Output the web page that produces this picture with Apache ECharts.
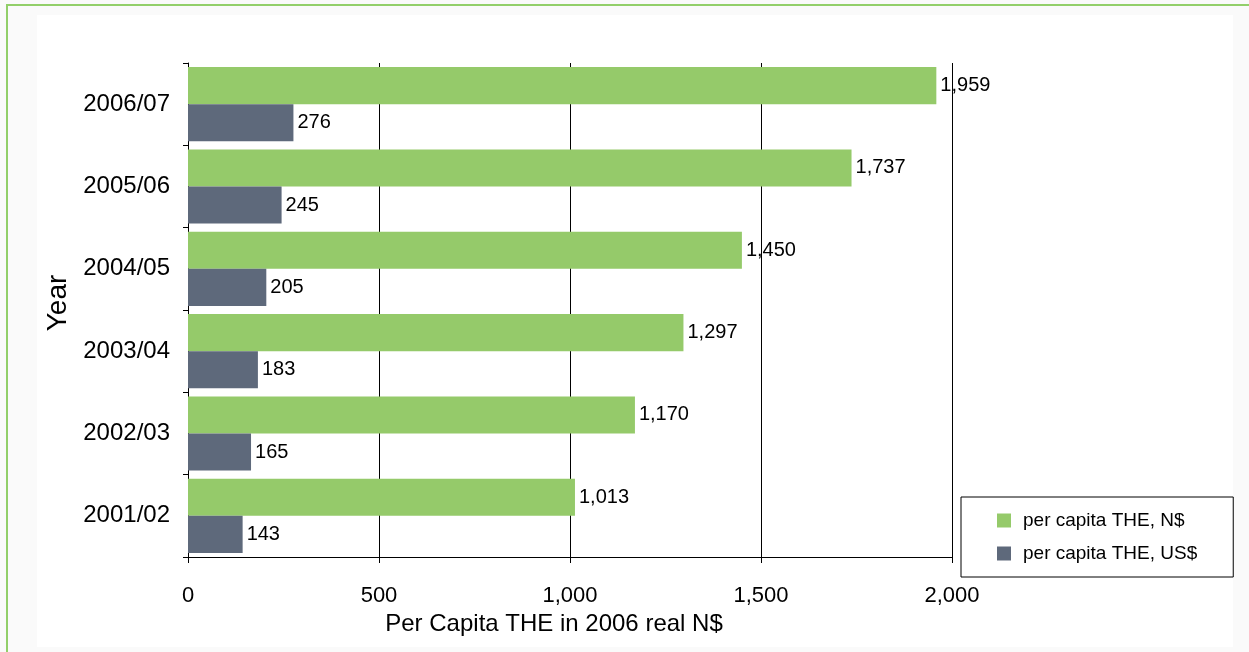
<!DOCTYPE html>
<html>
<head>
<meta charset="utf-8">
<script src="https://cdn.jsdelivr.net/npm/echarts@6/dist/echarts.min.js"></script>
<style>
  html, body { margin: 0; padding: 0; background: #fafafa; }
  #frameTop { position: absolute; left: 6px; top: 4px; width: 1243px; height: 2px; background: #92cf6a; }
  #frameLeft { position: absolute; left: 6px; top: 4px; width: 2px; height: 648px; background: #92cf6a; }
  #panel { position: absolute; left: 37px; top: 15px; width: 1196px; height: 632px; background: #ffffff; }
  #chart { position: absolute; left: 0; top: 0; width: 1249px; height: 652px; }
</style>
</head>
<body>
<div id="frameTop"></div>
<div id="frameLeft"></div>
<div id="panel"></div>
<div id="chart"></div>
<script>
const categories = ['2001/02', '2002/03', '2003/04', '2004/05', '2005/06', '2006/07'];
const seriesNames = ['per capita THE, N$', 'per capita THE, US$'];
const valuesNAD = [1013, 1170, 1297, 1450, 1737, 1959];
const valuesUSD = [143, 165, 183, 205, 245, 276];
const xTicks = [0, 500, 1000, 1500, 2000];

const chart = echarts.init(document.getElementById('chart'), null, { renderer: 'canvas' });
const FONT = '"Liberation Sans", Arial, sans-serif';
const fmt = v => Number(v).toLocaleString('en-US');

chart.setOption({
  backgroundColor: 'transparent',
  animation: false,
  textStyle: { fontFamily: FONT, color: '#000' },
  grid: { left: 188, top: 63, width: 764, height: 494, containLabel: false },
  legend: {
    orient: 'vertical',
    left: 961, top: 497,
    data: seriesNames,
    itemWidth: 14, itemHeight: 14, itemGap: 14,
    padding: [14, 36, 14, 36],
    borderColor: '#000', borderWidth: 1,
    backgroundColor: '#fff',
    icon: 'rect',
    textStyle: { fontFamily: FONT, fontSize: 19, color: '#000', padding: [0, 0, 0, 7] }
  },
  xAxis: {
    type: 'value',
    min: xTicks[0], max: xTicks[xTicks.length - 1], interval: 500,
    name: 'Per Capita THE in 2006 real N$',
    nameLocation: 'middle', nameGap: 53,
    nameTextStyle: { fontFamily: FONT, fontSize: 24, color: '#000', padding: [0, 32, 0, 0] },
    axisLine: { show: true, lineStyle: { color: '#000', width: 1 } },
    axisTick: { show: true, length: 6, lineStyle: { color: '#000' } },
    axisLabel: { fontFamily: FONT, fontSize: 22, color: '#000', margin: 28, formatter: fmt },
    splitLine: { show: true, lineStyle: { color: '#000', width: 1 } }
  },
  yAxis: {
    type: 'category',
    data: categories,
    name: 'Year',
    nameLocation: 'middle', nameGap: 114, nameRotate: 90,
    nameTextStyle: { fontFamily: FONT, fontSize: 28, color: '#000', padding: [0, 0, 0, 14] },
    axisLine: { show: true, lineStyle: { color: '#000', width: 1 } },
    axisTick: { show: true, length: 5, lineStyle: { color: '#000' } },
    axisLabel: { fontFamily: FONT, fontSize: 24, color: '#000', margin: 18 },
    splitLine: { show: false }
  },
  series: [
    {
      name: seriesNames[0], type: 'bar', data: valuesNAD,
      barGap: '0%', barCategoryGap: '10%',
      itemStyle: { color: '#95ca6a' },
      label: { show: true, position: 'right', distance: 4, fontFamily: FONT, fontSize: 20, color: '#000', formatter: p => fmt(p.value) }
    },
    {
      name: seriesNames[1], type: 'bar', data: valuesUSD,
      barGap: '0%', barCategoryGap: '10%',
      itemStyle: { color: '#5e697b' },
      label: { show: true, position: 'right', distance: 4, fontFamily: FONT, fontSize: 20, color: '#000', formatter: p => fmt(p.value) }
    }
  ]
});
</script>
</body>
</html>
